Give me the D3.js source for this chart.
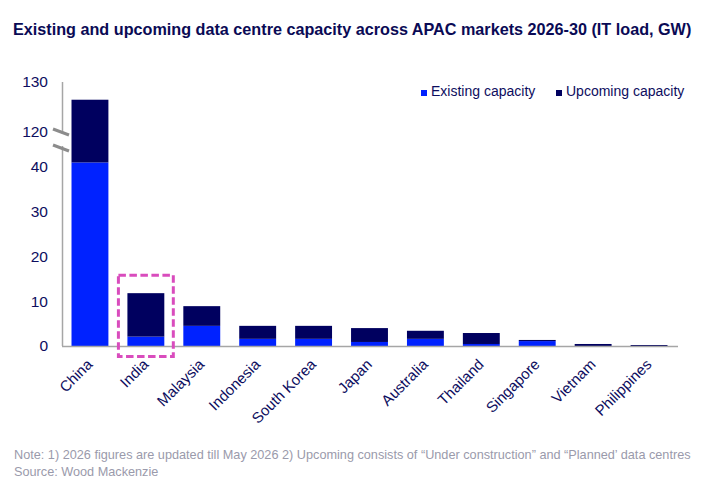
<html>
<head>
<meta charset="utf-8">
<script src="https://d3js.org/d3.v7.min.js"></script>
<style>
  body { margin: 0; background: #fff; }
  text { font-family: "Liberation Sans", Arial, sans-serif; }
</style>
</head>
<body>
<script>
    // data (GW)
    var markets = ['China', 'India', 'Malaysia', 'Indonesia', 'South Korea', 'Japan', 'Australia', 'Thailand', 'Singapore', 'Vietnam', 'Philippines'];
    var existing = [41, 2.1, 4.5, 1.6, 1.6, 0.9, 1.6, 0.45, 1.1, 0, 0];
    var upcoming = [85.4, 9.7, 4.4, 2.9, 2.9, 3.1, 1.8, 2.45, 0.25, 0.45, 0.22];
    var yTicks = [0, 10, 20, 30, 40, 120, 130];
    var seriesNames = ['Existing capacity', 'Upcoming capacity'];
    var highlighted = 'India';

    var width = 708, height = 492;
    var navy = '#0d0d5e';
    var colors = ['#0022ff', '#00005f'];

    var svg = d3.select('body').append('svg').attr('width', width).attr('height', height);

    svg.append('text').attr('x', 13).attr('y', 35).attr('font-size', 16.2).attr('font-weight', 'bold')
        .attr('fill', '#0a0a55').text('Existing and upcoming data centre capacity across APAC markets 2026-30 (IT load, GW)');

    var x = d3.scaleBand().domain(markets).range([62, 677]).paddingInner(0.34).paddingOuter(0.17);
    // broken axis: 0-44 on the lower part, 117-130 above the break
    var y = d3.scaleLinear().domain([0, 44, 117, 130]).range([346, 149, 146, 82]);

    var rows = markets.map(function(m, i){ return {market: m, existing: existing[i], upcoming: upcoming[i]}; });
    var stack = d3.stack().keys(['existing', 'upcoming'])(rows);

    svg.append('g').selectAll('g').data(stack).enter().append('g')
        .attr('fill', function(d, i){ return colors[i]; })
        .selectAll('rect').data(function(d){ return d; }).enter().append('rect')
        .attr('x', function(d){ return x(d.data.market); })
        .attr('width', x.bandwidth())
        .attr('y', function(d){ return y(d[1]); })
        .attr('height', function(d){ return y(d[0]) - y(d[1]); });

    // y axis
    var yAxis = svg.append('g').attr('transform', 'translate(62,0)')
        .call(d3.axisLeft(y).tickValues(yTicks).tickSize(0).tickPadding(14));
    yAxis.select('.domain').remove();
    yAxis.selectAll('text').attr('font-size', 15.5).attr('fill', navy)
        .style('font-family', '"Liberation Sans", Arial, sans-serif');

    svg.append('line').attr('x1', 62.5).attr('x2', 62.5).attr('y1', 82).attr('y2', 134)
        .attr('stroke', '#a6a6a6').attr('stroke-width', 1.5);
    svg.append('line').attr('x1', 62.5).attr('x2', 62.5).attr('y1', 146).attr('y2', 346)
        .attr('stroke', '#a6a6a6').attr('stroke-width', 1.5);
    [132, 148].forEach(function(yy){
        svg.append('line').attr('x1', 53).attr('x2', 69).attr('y1', yy - 3).attr('y2', yy + 3)
            .attr('stroke', '#8c8c8c').attr('stroke-width', 3);
    });

    // x axis
    svg.append('line').attr('x1', 62).attr('x2', 678).attr('y1', 346.5).attr('y2', 346.5)
        .attr('stroke', '#a6a6a6').attr('stroke-width', 1.5);
    svg.append('g').selectAll('text').data(markets).enter().append('text')
        .attr('transform', function(d){ return 'translate(' + (x(d) + x.bandwidth() / 2 - 4) + ',358) rotate(-45)'; })
        .attr('text-anchor', 'end').attr('dy', '0.7em')
        .attr('font-size', 15).attr('fill', navy).text(function(d){ return d; });

    // highlight box
    svg.append('rect')
        .attr('x', x(highlighted) - 9).attr('width', x.bandwidth() + 18)
        .attr('y', y(existing[1] + upcoming[1]) - 18)
        .attr('height', 356.5 - (y(existing[1] + upcoming[1]) - 18))
        .attr('fill', 'none').attr('stroke', '#d94cbd').attr('stroke-width', 3)
        .attr('stroke-dasharray', '7.5,3.5');

    // legend
    var legendX = [421, 556];
    seriesNames.forEach(function(name, i){
        svg.append('rect').attr('x', legendX[i]).attr('y', 90).attr('width', 6).attr('height', 6).attr('fill', colors[i]);
        svg.append('text').attr('x', legendX[i] + 10).attr('y', 96).attr('font-size', 14)
            .attr('fill', navy).text(name);
    });

    // notes
    svg.append('text').attr('x', 14).attr('y', 459).attr('font-size', 12.7).attr('fill', '#9a9aab')
        .text('Note: 1) 2026 figures are updated till May 2026 2) Upcoming consists of \u201cUnder construction\u201d and \u201cPlanned\u2019 data centres');
    svg.append('text').attr('x', 14).attr('y', 476).attr('font-size', 12.7).attr('fill', '#9a9aab')
        .text('Source: Wood Mackenzie');
</script>
</body>
</html>
